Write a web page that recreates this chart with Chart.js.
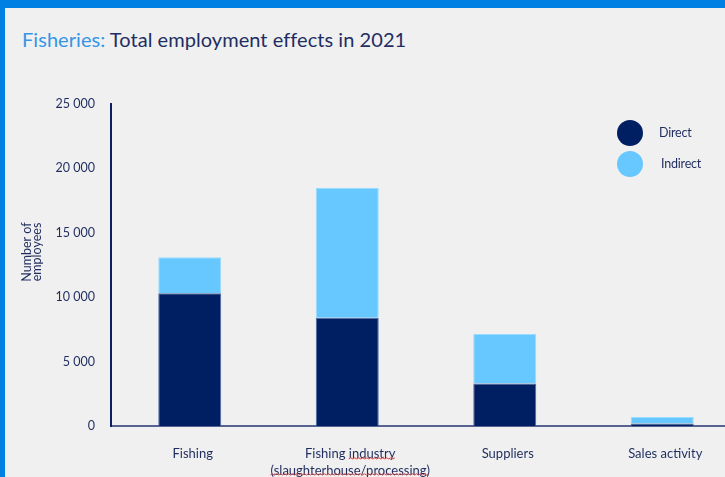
<!DOCTYPE html>
<html>
<head>
<meta charset="utf-8">
<script src="https://cdn.jsdelivr.net/npm/chart.js@4.4.1/dist/chart.umd.min.js"></script>
<style>
  html, body { margin: 0; padding: 0; width: 725px; height: 477px; overflow: hidden; background: #0080e2; }
  #panel { position: absolute; left: 5px; top: 8px; width: 760px; height: 469px; background: #f0f0f0; overflow: hidden; }
  #titulo { position: absolute; left: 17px; top: 19px; font-family: Lato, sans-serif; font-size: 20px; letter-spacing: 0.05px; color: #1f2d63; white-space: nowrap; }
  #titulo span { color: #3596e6; }
  #legenda { position: absolute; left: 612px; top: 112px; font-family: Lato, sans-serif; font-size: 12.5px; color: #1f2d5e; letter-spacing: -0.2px; }
  .item { position: relative; height: 31px; }
  .bola { position: absolute; left: 0; top: 0; width: 26px; height: 26px; border-radius: 50%; }
  .item .txt { position: absolute; left: 42px; top: 5px; }
  #wrap { position: absolute; left: 0; top: 0; width: 736px; height: 469px; }
</style>
</head>
<body>
<div id="panel">
  <div id="titulo"><span>Fisheries:</span> Total employment effects in 2021</div>
  <div id="wrap"><canvas id="grafico"></canvas></div>
  <div id="legenda">
    <div class="item"><div class="bola" style="background:#001e62"></div><div class="txt">Direct</div></div>
    <div class="item"><div class="bola" style="background:#66c8ff"></div><div class="txt" style="left:44px">Indirect</div></div>
  </div>
</div>
<script>
// dados
const categorias = [['Fishing'], ['Fishing industry', '(slaughterhouse/processing)'], ['Suppliers'], ['Sales activity']];
const diretos = [10300, 8400, 3300, 200];
const indiretos = [2800, 10100, 3850, 500];
const yMax = 25000;
const yPasso = 5000;
const tituloY = ['Number of', 'employees'];

const corTexto = '#1f2d5e';
const fonte = 'Lato, sans-serif';

function formatar(v) {
    return String(v).replace(/\B(?=(\d{3})+(?!\d))/g, ' ');
}

// título vertical do eixo y + sublinhado vermelho do corretor
const extras = {
    id: 'extras',
    afterDraw(chart) {
        const ctx = chart.ctx;
        ctx.save();
        ctx.fillStyle = corTexto;
        ctx.font = '12.5px ' + fonte;
        ctx.textAlign = 'center';
        ctx.textBaseline = 'middle';
        ctx.translate(22, 244);
        ctx.rotate(-Math.PI / 2);
        ctx.fillText(tituloY[0], 0, 0);
        ctx.fillText(tituloY[1], 0, 10);
        ctx.restore();

        const x = chart.scales.x;
        const cx = x.getPixelForTick(1) + 3;
        ctx.save();
        ctx.font = '13px ' + fonte;
        const l1 = categorias[1][0], l2 = categorias[1][1];
        const w1 = ctx.measureText(l1).width;
        const wIni = ctx.measureText('Fishing ').width;
        const wInd = ctx.measureText('industry').width;
        const w2 = ctx.measureText(l2).width;
        ondas(ctx, cx - w1 / 2 + wIni, cx - w1 / 2 + wIni + wInd, 451);
        ondas(ctx, cx - w2 / 2, cx + w2 / 2, 467);
        ctx.restore();
    }
};

function ondas(ctx, x0, x1, y) {
    ctx.strokeStyle = '#e03a3a';
    ctx.lineWidth = 1;
    ctx.beginPath();
    let sobe = true;
    ctx.moveTo(x0, y);
    for (let x = x0 + 2; x <= x1; x += 2) {
        ctx.lineTo(x, sobe ? y - 1.2 : y);
        sobe = !sobe;
    }
    ctx.stroke();
}

function inicializarGrafico() {
    const ctx = document.getElementById('grafico').getContext('2d');
    new Chart(ctx, {
        type: 'bar',
        data: {
            labels: categorias,
            datasets: [
                {
                    label: 'Direct',
                    data: diretos,
                    backgroundColor: '#001e62',
                    borderColor: '#4d6aa6',
                    borderWidth: 1
                },
                {
                    label: 'Indirect',
                    data: indiretos,
                    backgroundColor: '#66c8ff',
                    borderColor: '#9adcff',
                    borderWidth: 1
                }
            ]
        },
        options: {
            responsive: true,
            maintainAspectRatio: false,
            animation: false,
            layout: { padding: { top: 96, left: 0, right: 0, bottom: 0 } },
            plugins: {
                legend: { display: false },
                tooltip: { enabled: false }
            },
            datasets: {
                bar: { barPercentage: 0.4, categoryPercentage: 1 }
            },
            scales: {
                x: {
                    stacked: true,
                    grid: { display: false, drawTicks: false },
                    border: { display: true, color: '#56628f', width: 2 },
                    ticks: {
                        color: corTexto,
                        font: { family: fonte, size: 13, lineHeight: 1.27 },
                        padding: 20,
                        labelOffset: 3,
                        maxRotation: 0,
                        autoSkip: false
                    },
                    afterFit(s) { s.height = 51; }
                },
                y: {
                    stacked: true,
                    min: 0,
                    max: yMax,
                    grid: { display: false, drawTicks: false },
                    border: { display: true, color: '#0b1f5e', width: 2 },
                    ticks: {
                        stepSize: yPasso,
                        color: corTexto,
                        font: { family: fonte, size: 12.5 },
                        padding: 16,
                        callback: v => formatar(v)
                    },
                    afterFit(s) { s.width = 106; }
                }
            }
        },
        plugins: [extras]
    });
}

document.addEventListener('DOMContentLoaded', inicializarGrafico);
</script>
</body>
</html>
